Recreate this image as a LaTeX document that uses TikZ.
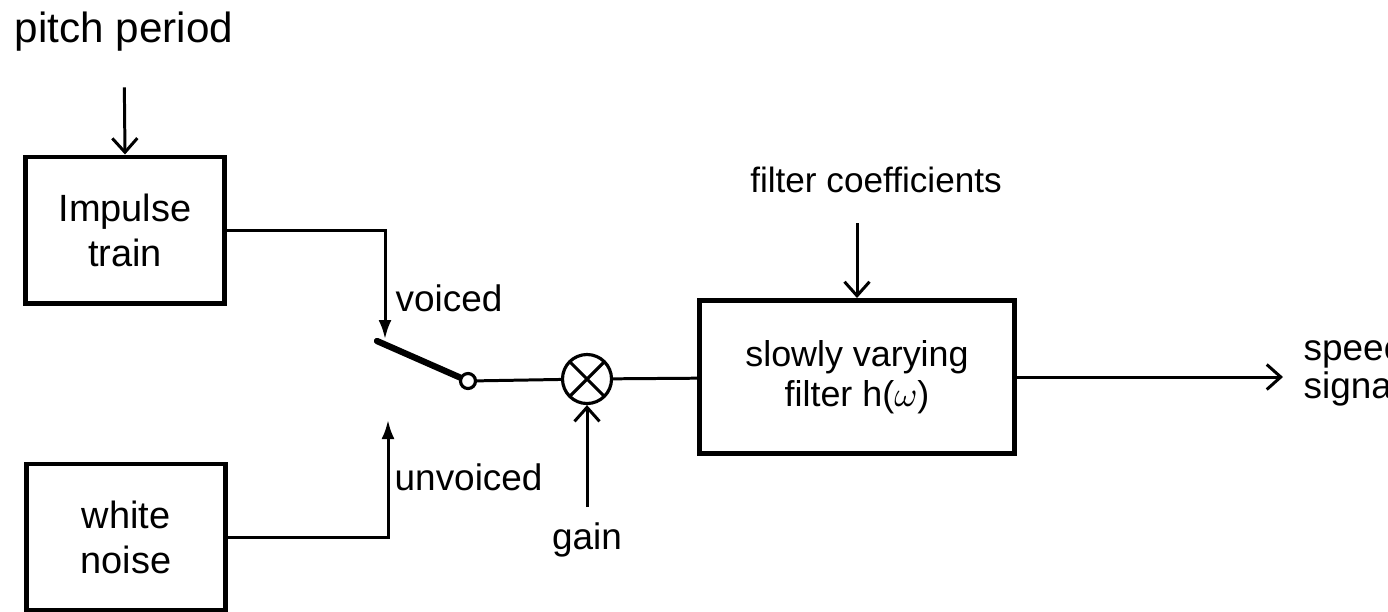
\documentclass[tikz,border=0pt]{standalone}
\usepackage{fontspec}
\setmainfont{Liberation Sans}
\usepackage{tikz}
\usetikzlibrary{arrows.meta, positioning, calc}
\tikzset{
  block/.style={rectangle, draw, line width=1.4pt, minimum width=1.98cm,
    minimum height=1.46cm, align=center, font=\fontsize{10.8}{12.8}\selectfont},
  mixer/.style={circle, draw, line width=0.9pt, minimum size=0.49cm, inner sep=0pt,
    path picture={\draw[line width=0.9pt]
      (path picture bounding box.north west) -- (path picture bounding box.south east)
      (path picture bounding box.north east) -- (path picture bounding box.south west);}},
  contact/.style={circle, draw, line width=0.9pt, minimum size=0.15cm, inner sep=0pt, fill=white},
  wire/.style={line width=0.85pt},
  arr/.style={-{Latex[length=1.9mm, width=1.3mm]}, line width=0.85pt},
  arrv/.style={-{Straight Barb[length=1.4mm, width=2.5mm]}, line width=0.85pt},
  lbl/.style={inner sep=0pt, font=\fontsize{10.5}{11.5}\selectfont},
}
\begin{document}
\begin{tikzpicture}[x=0.01cm, y=-0.01cm]
\useasboundingbox (0,0) rectangle (1388,611);

\node[block] (imp) at (125,230) {Impulse\\train};
\node[block] (noise) at (126,537) {white\\noise};
\node[block, minimum width=3.14cm, minimum height=1.53cm,
  font=\fontsize{10.2}{11.4}\selectfont] (filt) at (857,377) {slowly varying\\filter h($\omega$)};
\node[mixer] (mult) at (587,379) {};
\node[contact] (sw) at (468,381) {};
\coordinate (pivot) at (377,341);
\coordinate (vtip) at (385,339);
\coordinate (utip) at (388,420);

\node[lbl, font=\fontsize{12}{14}\selectfont] (pitch) at (124,32) {pitch period};
\node[lbl, font=\fontsize{10}{11}\selectfont] (coef) at (876,180) {filter coefficients};
\node[lbl, anchor=west] (voiced) at (395,298) {voiced};
\node[lbl, anchor=west] (unvoiced) at (394,477) {unvoiced};
\node[lbl] (gain) at (587,540) {gain};
\node[lbl, anchor=west, align=left, font=\fontsize{10.5}{10.8}\selectfont] (speech) at (1303,370) {speech\\signal};

\draw[arrv, shorten <=0.35cm] (pitch.south) -- (imp.north);
\draw[arr] (imp.east) -| (vtip);
\draw[arr] (noise.east) -| (utip);

% switch blade
\draw[line width=1.8pt, line cap=round] (pivot) -- (sw);
\draw[wire] (sw) -- (mult);
\draw[wire] (mult) -- (filt);
\draw[arrv, shorten <=0.15cm] (gain.north) -- (mult.south);

\coordinate (cin) at ($(filt.north)+(0,-75)$);
\draw[arrv] (cin) -- (filt.north);
\draw[arrv, shorten >=0.2cm] (filt.east) -- (filt.east -| speech.west);

\end{tikzpicture}
\end{document}
